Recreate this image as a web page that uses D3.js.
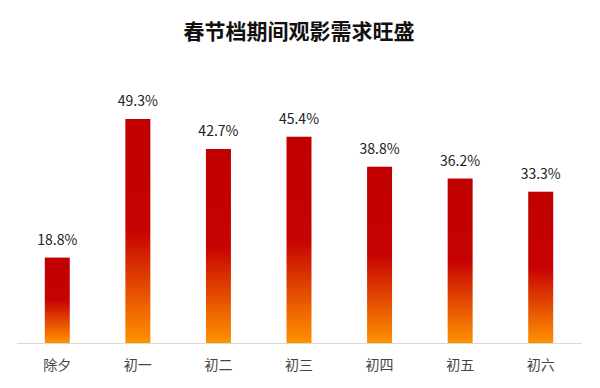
<!DOCTYPE html>
<html lang="zh">
<head>
<meta charset="utf-8"/>
<script src="https://cdn.jsdelivr.net/npm/d3@7"></script>
<style>
  body { margin: 0; background: #fff; }
  text { font-family: "Noto Sans CJK SC", "Microsoft YaHei", sans-serif; }
</style>
</head>
<body>
<script>
var categories = ["除夕", "初一", "初二", "初三", "初四", "初五", "初六"];
var values = [18.8, 49.3, 42.7, 45.4, 38.8, 36.2, 33.3];
var title = "春节档期间观影需求旺盛";

var w = 600, h = 388;
var baseY = 343;

var svg = d3.select("body").append("svg")
    .attr("width", w)
    .attr("height", h);

var grad = svg.append("defs").append("linearGradient")
    .attr("id", "barGrad")
    .attr("x1", 0).attr("y1", 0)
    .attr("x2", 0).attr("y2", 1);
grad.append("stop").attr("offset", "0%").attr("stop-color", "#c00000");
grad.append("stop").attr("offset", "50%").attr("stop-color", "#c70202");
grad.append("stop").attr("offset", "100%").attr("stop-color", "#ff9200");

var x = d3.scaleBand()
    .domain(categories)
    .range([17, 581])
    .paddingInner(0.69)
    .paddingOuter(0.345);

var y = d3.scaleLinear()
    .domain([0, 49.3])
    .range([baseY, 119]);

svg.append("text")
    .attr("x", 299)
    .attr("y", 39)
    .attr("text-anchor", "middle")
    .attr("font-size", 21)
    .attr("font-weight", "bold")
    .attr("fill", "#111")
    .text(title);

svg.selectAll("rect.bar")
    .data(values)
    .enter()
    .append("rect")
    .attr("class", "bar")
    .attr("x", function(d, i) { return x(categories[i]); })
    .attr("y", function(d) { return y(d); })
    .attr("width", x.bandwidth())
    .attr("height", function(d) { return baseY - y(d); })
    .attr("fill", "url(#barGrad)");

svg.append("line")
    .attr("x1", 17).attr("x2", 582)
    .attr("y1", baseY + 0.5).attr("y2", baseY + 0.5)
    .attr("stroke", "#d9d9d9");

svg.selectAll("text.val")
    .data(values)
    .enter()
    .append("text")
    .attr("class", "val")
    .attr("x", function(d, i) { return x(categories[i]) + x.bandwidth() / 2; })
    .attr("y", function(d) { return y(d) - 13; })
    .attr("text-anchor", "middle")
    .attr("font-size", 14)
    .attr("fill", "#222")
    .text(function(d) { return d.toFixed(1) + "%"; });

svg.selectAll("text.cat")
    .data(categories)
    .enter()
    .append("text")
    .attr("class", "cat")
    .attr("x", function(d) { return x(d) + x.bandwidth() / 2; })
    .attr("y", 370)
    .attr("text-anchor", "middle")
    .attr("font-size", 14)
    .attr("fill", "#444")
    .text(function(d) { return d; });
</script>
</body>
</html>
